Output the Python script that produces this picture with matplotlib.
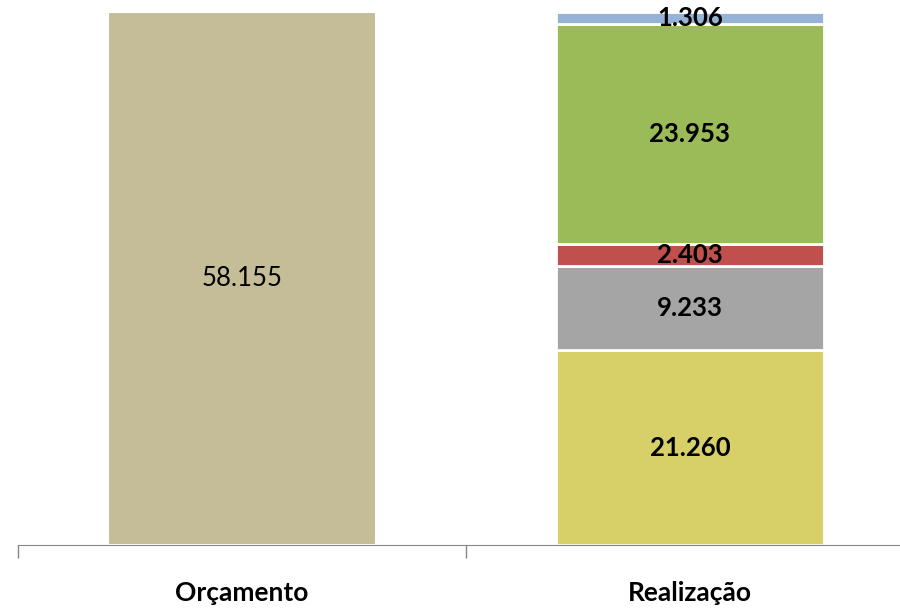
import matplotlib.pyplot as plt
import numpy as np

plt.rcParams['font.family'] = ['Lato', 'DejaVu Sans']

categories = ['Orçamento', 'Realização']
budget = 58.155
realized_parts = [21.260, 9.233, 2.403, 23.953, 1.306]
part_colours = ['#D7D068', '#A5A5A5', '#C0504D', '#9BBB59', '#95B3D7']
budget_colour = '#C4BD97'

fig = plt.figure(figsize=(9, 6.11), dpi=100)
ax = fig.add_axes([18 / 900, 66 / 611, 896 / 900, 533 / 611])

x = np.arange(len(categories))
w = 0.6

# left bar: budget
ax.bar(x[0], budget, w, color=budget_colour, edgecolor='white', linewidth=1.5)
ax.text(x[0], budget / 2, f'{budget:.3f}', ha='center', va='center', fontsize=18.5)

# right bar: stacked realization
bottom = 0
for val, col in zip(realized_parts, part_colours):
    ax.bar(x[1], val, w, bottom=bottom, color=col, edgecolor='white', linewidth=2)
    ax.text(x[1], bottom + val / 2, f'{val:.3f}', ha='center', va='center',
            fontsize=18.5, fontweight='bold')
    bottom += val

ax.set_xlim(-0.5, 1.5)
ax.set_ylim(0, budget)
ax.set_yticks([])
for s in ['top', 'right', 'left']:
    ax.spines[s].set_visible(False)
ax.spines['bottom'].set_color('#868686')
ax.set_xticks(x)
ax.set_xticklabels(categories, fontsize=19, fontweight='bold')
ax.tick_params(axis='x', which='major', length=0, pad=26)
ax.set_xticks([-0.5, 0.5, 1.5], minor=True)
ax.tick_params(axis='x', which='minor', length=9, color='#868686', width=1)

plt.savefig('out.png', dpi=100)
